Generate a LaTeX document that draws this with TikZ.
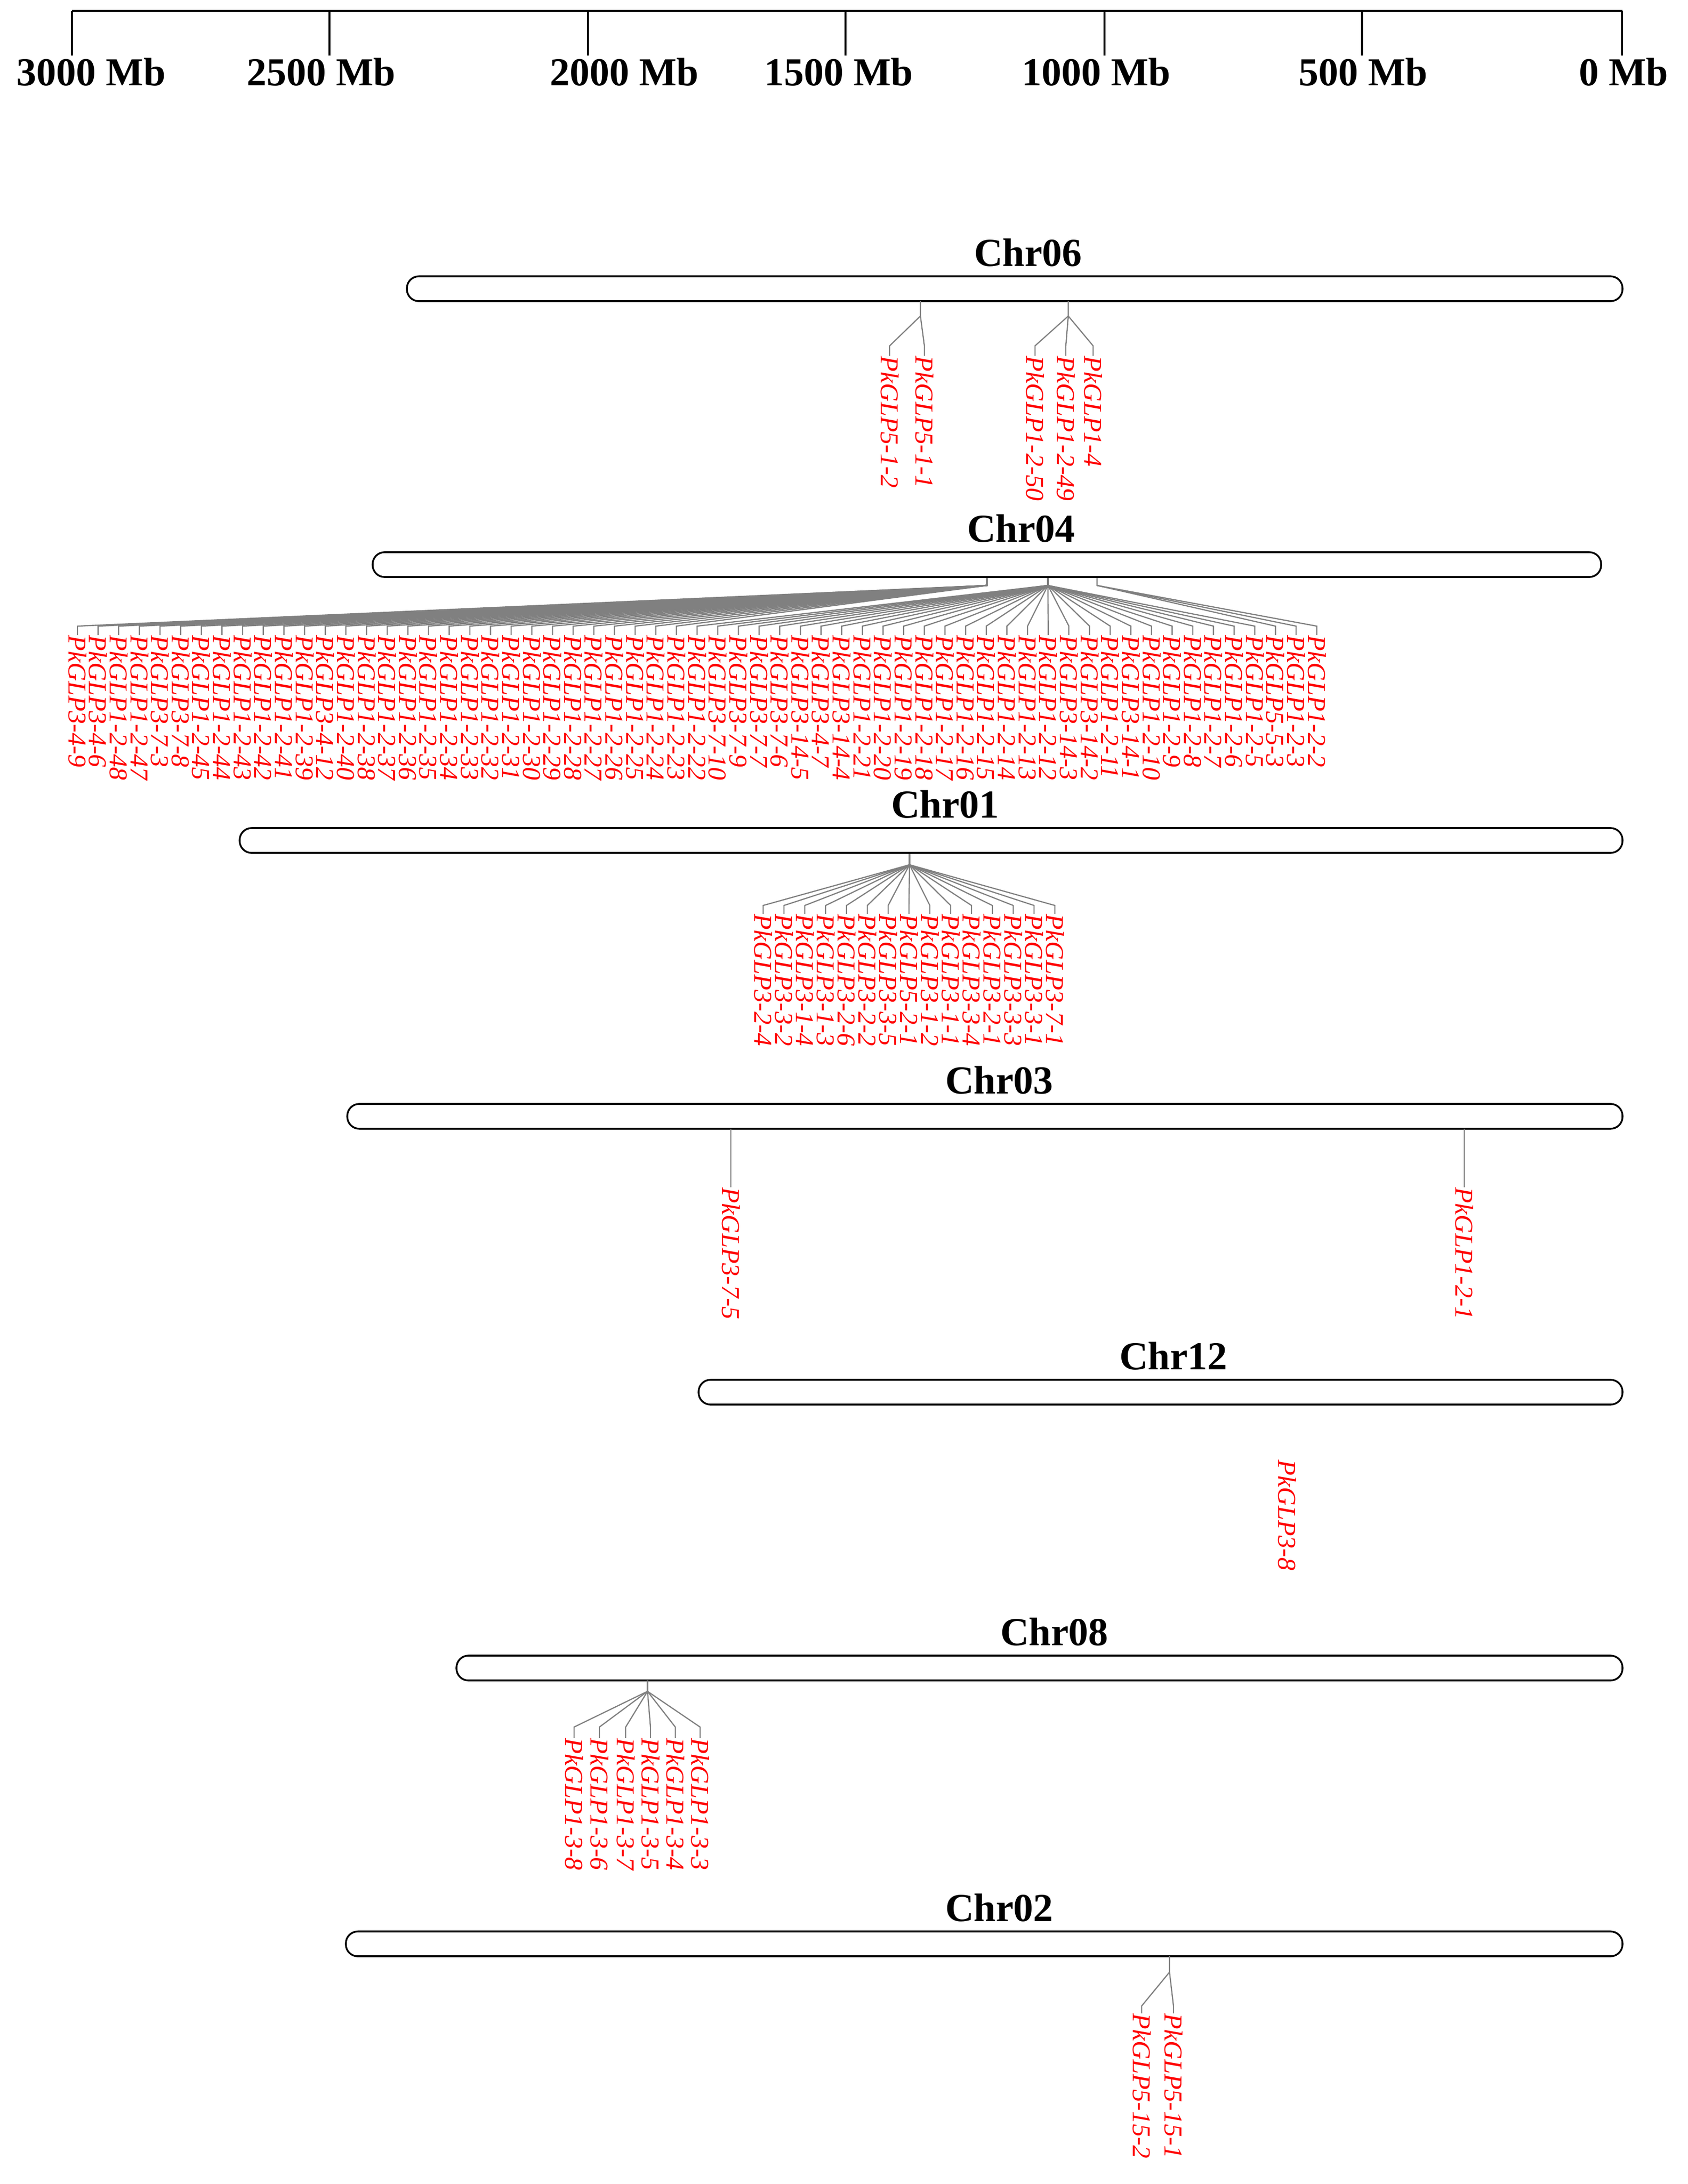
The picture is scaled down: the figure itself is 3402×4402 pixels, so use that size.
\documentclass[tikz,border=0pt]{standalone}
\usepackage{fontspec}
\setmainfont{Liberation Serif}
\tikzset{
  conn/.style={draw=gray, line width=0.6pt},
  chrbar/.style={draw=black, line width=0.9pt, rounded corners=6pt, fill=white},
  chrname/.style={font=\fontsize{20}{20}\selectfont\bfseries},
  scalelbl/.style={font=\fontsize{20}{20}\selectfont\bfseries},
  glabel/.style={text=red, font=\fontsize{13}{13}\selectfont\itshape, rotate=-90, anchor=west, inner sep=0pt},
}
\newcommand{\genefan}[7]{% gx, ybot, d1, d2, d3, lx, name
  \coordinate (g-#7) at (#1,#2);
  \node[glabel] (l-#7) at (#6,#2+#5+2) {#7};
  \draw[conn] (g-#7) -- ++(0,#3) -- (#6,#2+#4) -- (l-#7.west);
}
\begin{document}
\begin{tikzpicture}[x=0.25pt,y=-0.25pt]
\useasboundingbox (0,0) rectangle (3402,4402);
% scale axis
\coordinate (ax0) at (145,22);
\coordinate (ax1) at (3270,22);
\draw[line width=1pt] (ax0) -- (ax1);
\foreach \tx in {145,664,1185,1704,2226,2745,3269} \draw[line width=1pt] (\tx,22) -- (\tx,112);
\foreach \cx/\t in {184/3000 Mb,647/2500 Mb,1258/2000 Mb,1690/1500 Mb,2209/1000 Mb,2747/500 Mb,3272/0 Mb}
  \node[scalelbl] at (\cx,145) {\t};
% chromosomes
\foreach \nm/\xl/\xr/\yt/\lx in {Chr06/820/3270/557/2072, Chr04/751/3227/1113/2058, Chr01/483/3270/1669/1905,
  Chr03/700/3270/2225/2014, Chr12/1408/3270/2781/2365, Chr08/920/3270/3337/2125, Chr02/697/3270/3893/2014}{
  \draw[chrbar] (\xl,\yt) rectangle (\xr,\yt+50);
  \node[chrname] (n\nm) at (\lx,\yt-48) {\nm};
}
% Chr06
\genefan{1855}{607}{30}{90}{108}{1793}{PkGLP5-1-2}
\genefan{1855}{607}{30}{90}{108}{1863}{PkGLP5-1-1}
\genefan{2153}{607}{30}{90}{108}{2086}{PkGLP1-2-50}
\genefan{2153}{607}{30}{90}{108}{2148}{PkGLP1-2-49}
\genefan{2153}{607}{30}{90}{108}{2203}{PkGLP1-4}
% Chr04
\foreach \n [count=\i] in {PkGLP3-4-9,PkGLP3-4-6,PkGLP1-2-48,PkGLP1-2-47,PkGLP3-7-3,PkGLP3-7-8,PkGLP1-2-45,PkGLP1-2-44,PkGLP1-2-43,PkGLP1-2-42,PkGLP1-2-41,PkGLP1-2-39,PkGLP3-4-12,PkGLP1-2-40,PkGLP1-2-38,PkGLP1-2-37,PkGLP1-2-36,PkGLP1-2-35,PkGLP1-2-34,PkGLP1-2-33,PkGLP1-2-32,PkGLP1-2-31,PkGLP1-2-30,PkGLP1-2-29,PkGLP1-2-28,PkGLP1-2-27,PkGLP1-2-26,PkGLP1-2-25,PkGLP1-2-24,PkGLP1-2-23,PkGLP1-2-22,PkGLP3-7-10,PkGLP3-7-9,PkGLP3-7-7,PkGLP3-7-6,PkGLP3-14-5,PkGLP3-4-7,PkGLP3-14-4,PkGLP1-2-21,PkGLP1-2-20,PkGLP1-2-19,PkGLP1-2-18,PkGLP1-2-17,PkGLP1-2-16,PkGLP1-2-15,PkGLP1-2-14,PkGLP1-2-13,PkGLP1-2-12,PkGLP3-14-3,PkGLP3-14-2,PkGLP1-2-11,PkGLP3-14-1,PkGLP1-2-10,PkGLP1-2-9,PkGLP1-2-8,PkGLP1-2-7,PkGLP1-2-6,PkGLP1-2-5,PkGLP5-5-3,PkGLP1-2-3,PkGLP1-2-2}{
  \pgfmathsetmacro\lx{156+(\i-1)*41.63}
  \ifnum\i<31 \def\gx{1989}\else\ifnum\i<59 \def\gx{2112}\else\def\gx{2211}\fi\fi
  \genefan{\gx}{1165}{15}{97}{113}{\lx}{\n}
}
% Chr01
\foreach \n [count=\i] in {PkGLP3-2-4,PkGLP3-3-2,PkGLP3-1-4,PkGLP3-1-3,PkGLP3-2-6,PkGLP3-2-2,PkGLP3-3-5,PkGLP5-2-1,PkGLP3-1-2,PkGLP3-1-1,PkGLP3-3-4,PkGLP3-2-1,PkGLP3-3-3,PkGLP3-3-1,PkGLP3-7-1}{
  \pgfmathsetmacro\lx{1538+(\i-1)*42}
  \genefan{1833}{1721}{22}{104}{119}{\lx}{\n}
}
% Chr03
\genefan{1473}{2275}{50}{100}{116}{1473}{PkGLP3-7-5}
\genefan{2951}{2275}{50}{100}{116}{2951}{PkGLP1-2-1}
% Chr12
\node[glabel] (l-PkGLP3-8) at (2594,2942) {PkGLP3-8};
% Chr08
\foreach \n/\lx in {PkGLP1-3-8/1157,PkGLP1-3-6/1208,PkGLP1-3-7/1261,PkGLP1-3-5/1311,PkGLP1-3-4/1361,PkGLP1-3-3/1411}{
  \genefan{1305}{3387}{22}{94}{114}{\lx}{\n}
}
% Chr02
\genefan{2357}{3943}{32}{100}{113}{2301}{PkGLP5-15-2}
\genefan{2357}{3943}{32}{100}{113}{2365}{PkGLP5-15-1}
\end{tikzpicture}
\end{document}
